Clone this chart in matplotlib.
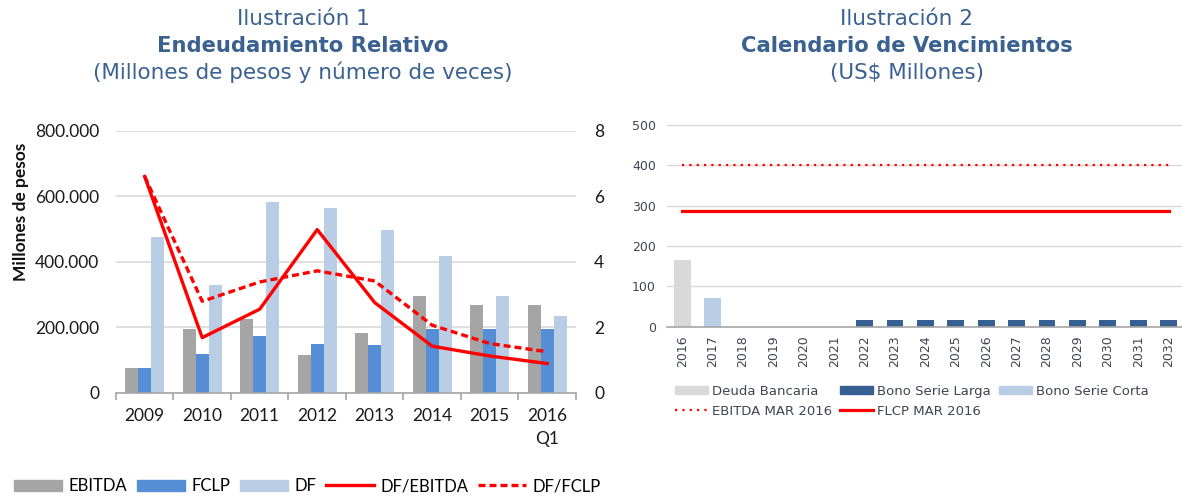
import matplotlib

matplotlib.use("Agg")

import matplotlib.pyplot as plt
import numpy as np
from matplotlib.patches import Patch
from matplotlib.lines import Line2D

# --- Ilustración 1 data ---
years_1 = ["2009", "2010", "2011", "2012", "2013", "2014", "2015", "2016\nQ1"]
ebitda = [74000, 195000, 226000, 114000, 182000, 294000, 267000, 267000]
fclp = [74000, 119000, 172000, 150000, 145000, 195000, 195000, 195000]
df_debt = [474000, 330000, 582000, 564000, 496000, 416000, 294000, 235000]
df_ebitda = [6.6, 1.68, 2.55, 4.98, 2.75, 1.42, 1.12, 0.89]
df_fclp = [6.6, 2.79, 3.38, 3.72, 3.41, 2.06, 1.50, 1.25]
left_ticks = [0, 200000, 400000, 600000, 800000]
left_tick_labels = ["0", "200.000", "400.000", "600.000", "800.000"]

# --- Ilustración 2 data ---
years_2 = [str(y) for y in range(2016, 2033)]
deuda_bancaria = [165, 0, 0, 0, 0, 0, 0, 0, 0, 0, 0, 0, 0, 0, 0, 0, 0]
bono_larga = [0, 0, 0, 0, 0, 0, 16.5, 16.5, 16.5, 16.5, 16.5, 16.5, 16.5, 16.5, 16.5, 16.5, 16.5]
bono_corta = [0, 70, 0, 0, 0, 0, 0, 0, 0, 0, 0, 0, 0, 0, 0, 0, 0]
ebitda_mar = 401
flcp_mar = 287.5

TITLE_BLUE = "#3A6190"
C_EBITDA = "#A5A5A5"
C_FCLP = "#558ED5"
C_DF = "#B9CDE5"
C_DB = "#D9D9D9"
C_BSL = "#376092"
C_BSC = "#B9CDE5"
RED = "#FF0000"
GRID = "#D9D9D9"
TXT1 = "#1A1A1A"
TXT2 = "#404452"
DASH = (0, (2.1, 1.2))
DOTS = (0, (1, 2.3))

fig = plt.figure(figsize=(11.82, 4.97), dpi=100)

# ---------- left chart ----------
ax1 = fig.add_axes([0.0981, 0.2099, 0.3892, 0.5272])
x1 = np.arange(len(years_1))
w = 0.225
ax1.bar(x1 - w, ebitda, w, color=C_EBITDA, zorder=2)
ax1.bar(x1, fclp, w, color=C_FCLP, zorder=2)
ax1.bar(x1 + w, df_debt, w, color=C_DF, zorder=2)
ax1.set_xlim(-0.5, len(years_1) - 0.5)
ax1.set_ylim(0, 800000)
ax1.set_yticks(left_ticks)
ax1.set_yticklabels(left_tick_labels, family="Lato", fontsize=12.5, color=TXT1)
ax1.yaxis.grid(True, color=GRID, linewidth=1.2, zorder=0)
ax1.set_axisbelow(True)
for s in ["top", "right", "left"]:
    ax1.spines[s].set_visible(False)
ax1.spines["bottom"].set_color("#A6A6A6")
ax1.spines["bottom"].set_linewidth(1.2)
ax1.tick_params(axis="y", length=0, pad=12)
ax1.set_xticks(np.arange(len(years_1) + 1) - 0.5)
ax1.set_xticklabels([])
ax1.set_xticks(x1, minor=True)
ax1.set_xticklabels(years_1, minor=True, family="Lato", fontsize=12.5, color=TXT1, linespacing=1.55)
ax1.tick_params(axis="x", which="major", length=5, color="#A6A6A6", width=1.2)
ax1.tick_params(axis="x", which="minor", length=0, pad=11)
ax1.set_ylabel("Millones de pesos", family="Lato", fontsize=12.5, fontweight="bold", color="#111111")
ax1.yaxis.set_label_coords(-0.19, 0.69)

ax1r = ax1.twinx()
ax1r.plot(x1, df_ebitda, color=RED, linewidth=2.4, zorder=3)
ax1r.plot(x1, df_fclp, color=RED, linewidth=2.4, linestyle=DASH, zorder=3)
ax1r.set_ylim(0, 8)
ax1r.set_yticks([0, 2, 4, 6, 8])
ax1r.set_yticklabels(["0", "2", "4", "6", "8"], family="Lato", fontsize=12.5, color=TXT1)
ax1r.tick_params(axis="y", length=0, pad=13)
for s in ["top", "right", "left", "bottom"]:
    ax1r.spines[s].set_visible(False)

handles1 = [
    Patch(color=C_EBITDA),
    Patch(color=C_FCLP),
    Patch(color=C_DF),
    Line2D([], [], color=RED, linewidth=2.4),
    Line2D([], [], color=RED, linewidth=2.4, linestyle=DASH),
]
labels1 = ["EBITDA", "FCLP", "DF", "DF/EBITDA", "DF/FCLP"]
fig.legend(handles1, labels1, loc="center", bbox_to_anchor=(0.260, 0.022), ncol=5,
           frameon=False, prop={"family": "Lato", "size": 12}, handlelength=2.9,
           handleheight=0.65, handletextpad=0.35, columnspacing=0.6)

fig.text(0.2563, 0.962, "Ilustración 1", ha="center", va="center", color=TITLE_BLUE, fontsize=15.5)
fig.text(0.2563, 0.908, "Endeudamiento Relativo", ha="center", va="center", color=TITLE_BLUE,
         fontsize=15.2, fontweight="bold")
fig.text(0.2563, 0.854, "(Millones de pesos y número de veces)", ha="center", va="center",
         color=TITLE_BLUE, fontsize=15.5)

# ---------- right chart ----------
ax2 = fig.add_axes([0.5643, 0.3427, 0.4357, 0.4072])
x2 = np.arange(len(years_2))
w2 = 0.55
ax2.bar(x2, deuda_bancaria, w2, color=C_DB, zorder=2)
ax2.bar(x2, bono_larga, w2, bottom=deuda_bancaria, color=C_BSL, zorder=2)
ax2.bar(x2, bono_corta, w2, bottom=np.array(deuda_bancaria) + np.array(bono_larga), color=C_BSC, zorder=2)
ax2.plot([x2[0], x2[-1]], [ebitda_mar, ebitda_mar], color=RED, linewidth=1.6, linestyle=DOTS, zorder=3)
ax2.plot([x2[0], x2[-1]], [flcp_mar, flcp_mar], color=RED, linewidth=2.3, zorder=3)
ax2.set_xlim(-0.5, 16.44)
ax2.set_ylim(0, 502)
ax2.set_yticks([0, 100, 200, 300, 400, 500])
ax2.yaxis.grid(True, color=GRID, linewidth=1.0, zorder=0)
ax2.set_axisbelow(True)
for s in ["top", "right", "left"]:
    ax2.spines[s].set_visible(False)
ax2.spines["bottom"].set_color("#A6A6A6")
ax2.spines["bottom"].set_linewidth(1.2)
ax2.set_xticks(x2)
ax2.set_xticklabels(years_2, rotation=90, fontsize=9, color=TXT2)
ax2.tick_params(axis="x", length=0, pad=6)
ax2.tick_params(axis="y", length=0, pad=8, labelsize=9, labelcolor=TXT2)

handles2 = [
    Patch(color=C_DB),
    Line2D([], [], color=RED, linewidth=1.6, linestyle=DOTS),
    Patch(color=C_BSL),
    Line2D([], [], color=RED, linewidth=2.3),
    Patch(color=C_BSC),
]
labels2 = ["Deuda Bancaria", "EBITDA MAR 2016", "Bono Serie Larga", "FLCP MAR 2016", "Bono Serie Corta"]
fig.legend(handles2, labels2, loc="upper left", bbox_to_anchor=(0.561, 0.249), ncol=3,
           frameon=False, prop={"size": 9.5}, handlelength=2.5, handleheight=0.55,
           handletextpad=0.3, columnspacing=0.6, labelspacing=0.5, labelcolor=TXT2)

fig.text(0.767, 0.962, "Ilustración 2", ha="center", va="center", color=TITLE_BLUE, fontsize=15.5)
fig.text(0.767, 0.908, "Calendario de Vencimientos", ha="center", va="center", color=TITLE_BLUE,
         fontsize=15.2, fontweight="bold")
fig.text(0.767, 0.854, "(US$ Millones)", ha="center", va="center", color=TITLE_BLUE, fontsize=15.5)

fig.savefig("out.png", dpi=100)
